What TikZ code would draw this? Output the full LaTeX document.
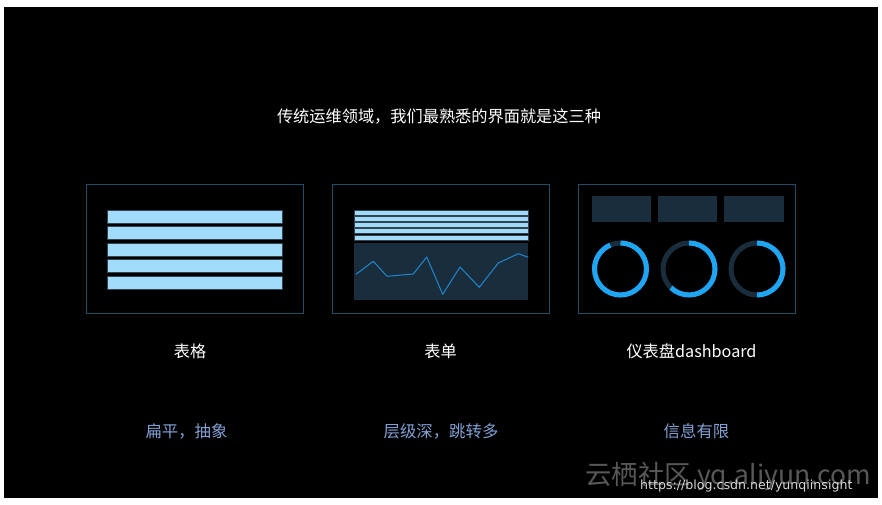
\documentclass[tikz,border=0pt]{standalone}
\usepackage{fontspec}
\setmainfont{Noto Sans CJK SC}
\newfontfamily\urlfont{DejaVu Sans}
\usetikzlibrary{positioning}
\definecolor{framecol}{RGB}{33,77,104}
\definecolor{barcol}{RGB}{160,220,250}
\definecolor{barline}{RGB}{50,68,82}
\definecolor{panelcol}{RGB}{26,45,60}
\definecolor{gaugeblue}{RGB}{30,166,244}
\definecolor{linecol}{RGB}{30,136,208}
\definecolor{notecol}{RGB}{130,160,212}
\definecolor{markcol}{RGB}{88,88,88}
\tikzset{
  card/.style={rectangle,draw=framecol,line width=0.8pt,minimum width=217pt,minimum height=129pt,inner sep=0pt},
  bar/.style={fill=barcol,draw=barline,line width=0.5pt},
  block/.style={fill=panelcol},
  ringoff/.style={draw=panelcol,line width=5pt},
  ringon/.style={draw=gaugeblue,line width=5pt},
  headline/.style={text=white,inner sep=0pt,font=\fontsize{16.2}{19}\selectfont},
  cardname/.style={text=white,inner sep=0pt,font=\fontsize{16.2}{19}\selectfont},
  cardnote/.style={text=notecol,inner sep=0pt,font=\fontsize{16.4}{19}\selectfont},
}
\begin{document}
\begin{tikzpicture}[x=1pt,y=1pt]
\useasboundingbox (0,0) rectangle (882,505);
% page and slide
\fill[white] (0,0) rectangle (882,505);
\fill[black] (4,7) rectangle (878,498);

% title
\node[headline] (title) at (439,388) {传统运维领域，我们最熟悉的界面就是这三种};

% the three cards
\node[card] (table) at (194.7,256.2) {};
\node[card] (form) at (441,256.2) {};
\node[card] (board) at (687.3,256.2) {};

% table: five wide bars
\foreach \top in {295,278.5,262,245.5,229}
  \draw[bar] (107.3,\top) rectangle (282,\top-13);

% form: thin bars and a line chart
\foreach \top in {295,288.75,282.5,276.25,270}
  \draw[bar] (354,\top) rectangle (528.3,\top-5);
\fill[block] (354,262.3) rectangle (528.3,204.7);
\draw[linecol,line width=1pt,line join=round] (356,230.7) -- (373.3,243.7) -- (387,228.7) -- (413.3,231) -- (426.7,248)
  -- (442.7,210.7) -- (460,238) -- (479.3,217.7) -- (498.3,242) -- (518.3,251.3) -- (528.3,247.7);

% dashboard: three blocks and three gauges
\fill[block] (591.7,308.7) rectangle (650.7,283.3);
\fill[block] (658,308.7) rectangle (717,283.3);
\fill[block] (724,308.7) rectangle (783.7,283.3);
\coordinate (g1) at (620.5,236);
\coordinate (g2) at (689,236);
\coordinate (g3) at (757,236);
\foreach \g/\stop in {g1/-247,g2/-134,g3/-90}{
  \draw[ringoff] (\g) circle[radius=26];
  \draw[ringon] ([shift={(90:26)}]\g) arc[start angle=90,end angle=\stop,radius=26];
}

% names and notes
\node[cardname] (tablename) at (190,154) {表格};
\node[cardname] (formname) at (440.6,154) {表单};
\node[cardname] (boardname) at (691.5,154) {仪表盘dashboard};
\node[cardnote] (tablenote) at (186.5,74) {扁平，抽象};
\node[cardnote] (formnote) at (441,74) {层级深，跳转多};
\node[cardnote] (boardnote) at (696.5,74) {信息有限};

% watermark
\node[text=markcol,inner sep=0pt,anchor=west,font=\fontsize{26.5}{30}\selectfont] (mark) at (585,29) {云栖社区 yq.aliyun.com};
\node[text=white!85!black,inner sep=0pt,anchor=west,font=\urlfont\fontsize{12.6}{15}\selectfont] (url) at (640,19) {https://blog.csdn.net/yunqiinsight};
\end{tikzpicture}
\end{document}
